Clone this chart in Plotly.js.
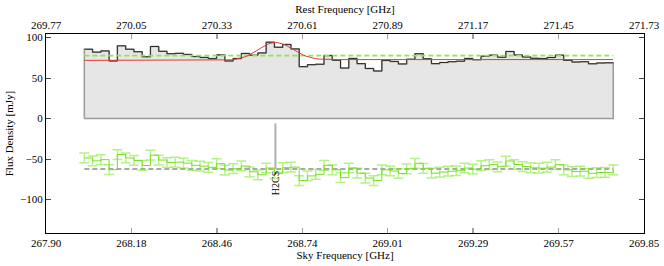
<!DOCTYPE html>
<html>
<head>
<meta charset="utf-8">
<script src="https://cdn.plot.ly/plotly-3.0.1.min.js"></script>
<style>html,body{margin:0;padding:0;background:#fff;} #chart{width:664px;height:266px;}</style>
</head>
<body>
<div id="chart"></div>
<script>
// ---------- data ----------
const chanStart = 268.025;      // sky frequency of first channel's low edge [GHz]
const chanWidth = 0.02695;      // channel width [GHz]

// observed flux density per channel [mJy]
const spectrum = [85.6, 82.0, 83.5, 71.1, 89.8, 85.6, 82.5, 76.3, 89.0, 83.0,
  80.0, 80.5, 79.2, 76.5, 75.5, 74.0, 78.6, 71.1, 74.0, 80.4,
  78.2, 81.0, 94.3, 88.0, 91.5, 86.0, 64.1, 66.5, 67.0, 77.7,
  72.0, 62.3, 74.2, 67.8, 61.8, 58.7, 71.8, 70.5, 67.4, 73.2,
  80.0, 73.8, 67.8, 69.2, 70.2, 70.8, 74.2, 72.7, 77.0, 78.3,
  75.7, 82.8, 78.5, 76.0, 74.4, 74.0, 75.3, 78.3, 71.9, 69.8,
  70.2, 67.6, 68.6, 68.8];

// residuals (offset) per channel [mJy], plus final edge point
const residual = [-48.7, -52.3, -50.8, -63.2, -44.5, -48.7, -51.8, -58.0, -45.3, -51.3,
  -54.3, -53.8, -55.1, -57.8, -58.8, -60.3, -55.8, -63.7, -62.0, -58.6,
  -65.8, -69.5, -61.1, -68.1, -60.7, -60.0, -76.6, -70.9, -69.0, -57.8,
  -63.3, -73.0, -61.1, -67.5, -73.5, -76.6, -63.5, -64.8, -67.9, -62.1,
  -55.3, -61.5, -67.5, -66.1, -65.1, -64.5, -61.1, -62.6, -58.3, -57.0,
  -59.6, -52.5, -56.8, -59.3, -60.9, -61.3, -60.0, -57.0, -63.4, -65.5,
  -65.1, -67.7, -66.7, -66.5, -63.5];
const residualError = 6;
const residualLevel = -62.5;
const meanLevel = 77.7;

// fitted model
const modelFreq = [268.025, 268.450, 268.470, 268.488, 268.503, 268.518, 268.528, 268.538, 268.548, 268.558,
  268.568, 268.578, 268.588, 268.598, 268.608, 268.618, 268.626, 268.633, 268.641, 268.648,
  268.655, 268.663, 268.670, 268.678, 268.688, 268.698, 268.708, 268.718, 268.728, 268.738,
  268.748, 268.758, 268.768, 268.778, 268.793, 268.808, 268.830, 268.850, 269.749];
const modelFlux = [71.8, 71.8, 71.9, 72.1, 72.5, 73.1, 73.8, 74.8, 76.1, 77.6,
  79.5, 81.6, 84.0, 86.5, 88.9, 90.9, 92.3, 93.1, 93.8, 94.0,
  93.8, 93.2, 92.4, 91.2, 89.2, 86.9, 84.6, 82.3, 80.3, 78.6,
  77.0, 75.7, 74.7, 74.0, 73.4, 73.1, 72.9, 72.8, 72.8];

// line identification (rest frequency, GHz)
const lineNames = ['H2CS'];
const lineRestFreq = [270.522];
const lineMarkTop = -6;
const lineMarkBottom = -62;

// axes
const skyRange = [267.90, 269.85];
const restRange = [269.77, 271.73];
const skyTickLabels = ['267.90', '268.18', '268.46', '268.74', '269.01', '269.29', '269.57', '269.85'];
const restTickLabels = ['269.77', '270.05', '270.33', '270.61', '270.89', '271.17', '271.45', '271.73'];
const fluxTicks = [-100, -50, 0, 50, 100];

// ---------- build ----------
const nChan = spectrum.length;
const edges = [];
for (let i = 0; i <= nChan; i++) edges.push(chanStart + i * chanWidth);
const specStep = spectrum.concat([spectrum[nChan - 1]]);
const firstEdge = edges[0], lastEdge = edges[nChan];

function evenTicks(r, n) { const t = []; for (let k = 0; k < n; k++) t.push(r[0] + k * (r[1] - r[0]) / (n - 1)); return t; }

const FONT = 'Liberation Serif, Times New Roman, serif';

const traces = [
  { // filled histogram body
    x: [firstEdge].concat(edges, [lastEdge, firstEdge]),
    y: [0].concat(specStep, [0, 0]),
    type: 'scatter', mode: 'lines', line: { shape: 'hv', color: '#9a9a9a', width: 1.5 },
    fill: 'toself', fillcolor: '#e6e6e6', hoverinfo: 'skip'
  },
  { // step outline
    x: edges, y: specStep, type: 'scatter', mode: 'lines',
    line: { shape: 'hv', color: '#2a2a2a', width: 1 }
  },
  { // mean level
    x: [firstEdge, lastEdge], y: [meanLevel, meanLevel], type: 'scatter', mode: 'lines',
    line: { color: '#8fe845', width: 1.6, dash: '5px,3px' }
  },
  { // model
    x: modelFreq, y: modelFlux, type: 'scatter', mode: 'lines', line: { color: '#e23b3b', width: 1 }
  },
  { // residual zero level
    x: [firstEdge, lastEdge], y: [residualLevel, residualLevel], type: 'scatter', mode: 'lines',
    line: { color: '#8c8c8c', width: 1.5, dash: '5px,3px' }
  },
  { // residual steps with error bars
    x: edges, y: residual, type: 'scatter', mode: 'lines',
    line: { shape: 'hv', color: 'rgb(118,226,30)', width: 1 },
    error_y: { type: 'constant', value: residualError, color: 'rgba(120,232,40,0.55)', thickness: 1.5, width: 5 }
  },
  { // line marker
    x: [lineRestFreq[0], lineRestFreq[0]], y: [lineMarkTop, lineMarkBottom], xaxis: 'x2', yaxis: 'y',
    type: 'scatter', mode: 'lines', line: { color: '#b0b0b0', width: 2 }
  }
];

const layout = {
  width: 664, height: 266,
  margin: { l: 46, r: 19.5, t: 34, b: 33, pad: 0 },
  paper_bgcolor: '#ffffff', plot_bgcolor: '#ffffff',
  showlegend: false,
  font: { family: FONT, size: 11, color: '#000' },
  xaxis: {
    range: skyRange, tickmode: 'array', tickvals: evenTicks(skyRange, 8), ticktext: skyTickLabels,
    ticks: 'inside', ticklen: 5, tickwidth: 1.5, tickcolor: '#a0a0a0',
    showline: true, linecolor: '#000', linewidth: 1, mirror: true, showgrid: false, zeroline: false,
    title: { text: 'Sky Frequency [GHz]', standoff: 3, font: { family: FONT, size: 11 } },
    automargin: false
  },
  xaxis2: {
    range: restRange, overlaying: 'x', side: 'top', anchor: 'y',
    tickmode: 'array', tickvals: evenTicks(restRange, 8), ticktext: restTickLabels,
    ticks: 'inside', ticklen: 5, tickwidth: 1.5, tickcolor: '#a0a0a0',
    showline: true, linecolor: '#000', linewidth: 1, showgrid: false, zeroline: false,
    title: { text: 'Rest Frequency [GHz]', standoff: 2, font: { family: FONT, size: 11 } },
    automargin: false
  },
  yaxis: {
    range: [-141.4, 104.4], tickmode: 'array', tickvals: fluxTicks,
    ticks: 'inside', ticklen: 5, tickwidth: 1, tickcolor: '#444',
    showline: true, linecolor: '#000', linewidth: 1, mirror: 'ticks', showgrid: false, zeroline: false,
    title: { text: 'Flux Density [mJy]', standoff: 4, font: { family: FONT, size: 11 } },
    automargin: false
  },
  annotations: lineNames.map((name, k) => ({
    x: lineRestFreq[k], y: lineMarkBottom, xref: 'x2', yref: 'y',
    text: name, showarrow: false, textangle: -90, xanchor: 'center', yanchor: 'top',
    font: { family: FONT, size: 10, color: '#000' }
  }))
};

Plotly.newPlot('chart', traces, layout, { staticPlot: true, displayModeBar: false });
</script>
</body>
</html>
